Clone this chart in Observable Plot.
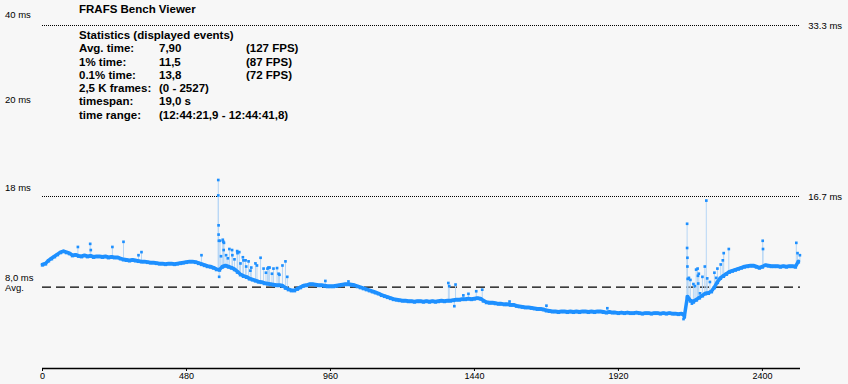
<!DOCTYPE html>
<html><head><meta charset="utf-8">
<script src="https://cdn.jsdelivr.net/npm/d3@7"></script>
<script src="https://cdn.jsdelivr.net/npm/@observablehq/plot@0.6"></script>
<style>
html,body{margin:0;padding:0;background:#f7f7f7;}
#wrap{position:relative;width:848px;height:384px;overflow:hidden;}
#title{position:absolute;left:79px;top:3px;font:bold 11.5px "Liberation Sans",sans-serif;color:#000;white-space:nowrap;}
#stats{position:absolute;left:79px;top:29px;font:bold 11.5px "Liberation Sans",sans-serif;color:#000;}
#stats .row{height:13.3px;line-height:13.3px;white-space:nowrap;}
#stats span{display:inline-block;}
#stats .c1{width:80px;}
#stats .c2{width:87px;}
</style></head><body>
<div id="wrap"><div id="chart"></div><div id="title"></div><div id="stats"></div></div>
<script>
// ---- data ----
const chartTitle = "FRAFS Bench Viewer";
const statsHeader = "Statistics (displayed events)";
const statNames = ["Avg. time:", "1% time:", "0.1% time:", "2,5 K frames:", "timespan:", "time range:"];
const statValues = ["7,90", "11,5", "13,8", "(0 - 2527)", "19,0 s", "(12:44:21,9 - 12:44:41,8)"];
const statFps = ["(127 FPS)", "(87 FPS)", "(72 FPS)", "", "", ""];

const totalFrames = 2527;
const frameStep = 10; // one sample every 10 frames
const bandMs = [
 10.1,10.2,10.5,10.7,10.9,11.1,11.3,11.4,11.3,11.2,
 11.0,11.05,10.95,10.9,11.0,10.9,10.95,10.85,10.9,10.9,
 10.85,10.9,10.8,10.85,10.8,10.8,10.7,10.6,10.55,10.5,
 10.55,10.5,10.45,10.4,10.4,10.35,10.3,10.3,10.25,10.2,
 10.2,10.15,10.2,10.2,10.15,10.2,10.25,10.3,10.35,10.4,
 10.4,10.35,10.25,10.15,10.05,9.95,9.9,9.8,9.65,9.6,
 9.9,10.0,9.9,9.8,9.65,9.4,9.15,9.0,8.9,8.75,
 8.65,8.55,8.45,8.4,8.3,8.25,8.2,8.15,8.1,8.1,
 8.05,7.85,7.7,7.6,7.6,7.75,7.9,8.05,8.1,8.2,
 8.2,8.15,8.1,8.1,8.05,8.0,8.0,8.0,8.05,8.1,
 8.15,8.2,8.2,8.15,8.1,8.0,7.9,7.8,7.7,7.6,
 7.5,7.4,7.3,7.15,7.05,6.95,6.85,6.75,6.7,6.65,
 6.6,6.6,6.55,6.55,6.5,6.55,6.55,6.5,6.55,6.5,
 6.55,6.5,6.55,6.6,6.55,6.6,6.6,6.65,6.7,6.7,
 6.75,6.75,6.8,6.75,6.8,6.85,6.8,6.6,6.45,6.4,
 6.4,6.35,6.3,6.3,6.25,6.25,6.2,6.2,6.1,6.05,
 6.0,5.95,5.95,5.9,5.85,5.8,5.8,5.75,5.65,5.6,
 5.55,5.55,5.5,5.55,5.55,5.5,5.55,5.5,5.55,5.5,
 5.55,5.55,5.5,5.55,5.5,5.55,5.55,5.5,5.45,5.5,
 5.45,5.45,5.4,5.45,5.4,5.45,5.4,5.4,5.45,5.4,
 5.35,5.4,5.4,5.35,5.4,5.4,5.35,5.4,5.35,5.4,
 5.35,5.35,5.3,5.35,5.1,7.0,6.6,6.5,6.7,6.9,
 7.1,7.3,7.35,7.5,7.9,8.4,8.8,9.0,9.2,9.4,
 9.5,9.6,9.7,9.8,9.9,9.95,10.0,10.0,9.9,9.8,
 9.9,10.05,10.0,9.95,9.95,9.95,9.9,9.95,9.9,9.95,
 9.95,9.9,10.4
];
// outlier frames: [frame, ms]
const spikes = [
 [118,11.8],[159,12.1],[161,11.5],[233,11.8],[270,12.3],[320,11.0],[330,11.3],[530,11.0],
 [586,18.3],[586,16.8],[587,13.9],[587,13.0],[588,12.4],[589,8.9],
 [592,12.4],[595,10.9],[601,12.5],[603,12.3],[605,12.2],[604,11.5],[612,11.0],[618,10.7],[623,11.6],
 [632,11.5],[633,11.0],[640,10.6],[649,11.4],[650,11.2],[656,11.3],[660,10.2],[668,10.8],[670,10.5],
 [677,10.5],[679,9.9],[687,10.4],[693,9.5],[696,9.8],[710,10.2],[715,10.0],[727,10.75],[737,9.7],
 [745,9.3],[750,9.7],[753,9.8],[757,9.8],[765,9.2],[770,9.7],[782,9.75],[787,9.2],[790,9.1],
 [800,10.0],[810,10.4],[816,8.9],
 [943,8.5],[1020,8.45],
 [1353,8.3],[1356,8.0],[1373,6.05],[1377,8.15],[1403,7.1],[1420,7.25],[1446,7.5],[1466,7.65],
 [1557,6.5],[1680,6.1],[1883,5.85],
 [2137,4.8],[2140,4.95],
 [2149,14.05],[2149,11.7],[2150,10.75],[2150,9.9],[2151,8.7],[2155,8.8],[2160,8.6],[2165,6.3],
 [2170,8.2],[2175,8.0],[2179,9.6],[2184,9.7],[2185,9.0],[2186,8.25],[2188,9.2],[2192,7.3],
 [2200,8.9],[2208,9.9],[2213,16.3],[2216,8.75],[2225,8.4],[2240,9.3],[2246,8.8],[2250,9.7],
 [2261,10.1],[2268,10.5],[2271,11.2],[2288,11.6],
 [2401,12.4],[2402,11.6],[2513,12.2],[2517,11.2],[2525,11.0]
];
const refLines = [33.3, 16.7];
const refLabels = ["33.3 ms", "16.7 ms"];
const avgMs = 7.90;
const xTicks = [0, 480, 960, 1440, 1920, 2400];
const yTickLabels = ["40 ms", "20 ms", "18 ms", "8,0 ms", "Avg."];
const yTickAt = [34.3, 26.1, 17.5, 8.75, 7.8];

// ---- tables for the library ----
const band = bandMs.map((ms, i) => ({frame: i * frameStep, ms}));
const spikeData = spikes.map(([frame, ms]) => ({
  frame, ms, base: bandMs[Math.min(bandMs.length - 1, Math.round(frame / frameStep))]
}));
const yLabelData = yTickLabels.map((label, i) => ({label, ms: yTickAt[i]}));
const refLabelData = refLabels.map((label, i) => ({label, ms: refLines[i]}));

const blue = "#1e90ff";
const chart = Plot.plot({
  width: 848, height: 384,
  marginLeft: 42, marginRight: 48, marginTop: 25, marginBottom: 16,
  x: {domain: [0, totalFrames]},
  y: {domain: [0, 33.3], axis: null},
  style: {background: "transparent", fontFamily: "Liberation Sans, sans-serif", fontSize: "9px", overflow: "visible", color: "#000"},
  marks: [
    Plot.ruleY(refLines, {stroke: "#000", strokeDasharray: "1,1", strokeWidth: 1}),
    Plot.ruleY([avgMs], {stroke: "#000", strokeDasharray: "9,5", strokeWidth: 1.3}),
    Plot.ruleX(spikeData, {x: "frame", y1: "base", y2: "ms", stroke: "#b7d6f5", strokeWidth: 1}),
    Plot.line(band, {x: "frame", y: "ms", stroke: blue, strokeWidth: 3.5, curve: "linear"}),
    Plot.dot(band, {x: "frame", y: "ms", symbol: "square", r: 1.9, fill: blue, dy: 0.5}),
    Plot.dot(spikeData, {x: "frame", y: "ms", symbol: "square", r: 1.5, fill: blue}),
    Plot.ruleY([0], {stroke: "#000", strokeWidth: 1.3}),
    Plot.axisX(xTicks, {tickSize: 3, tickPadding: 1, fontSize: 9, label: null, stroke: "#000", tickFormat: d => String(d)}),
    Plot.text(yLabelData, {x: () => -125, y: "ms", text: "label", textAnchor: "start", fontSize: 9.5, fill: "#000"}),
    Plot.text(refLabelData, {x: () => 2553, y: "ms", text: "label", textAnchor: "start", fontSize: 9.5, fill: "#000"})
  ]
});
document.getElementById("chart").append(chart);

document.getElementById("title").textContent = chartTitle;
const stats = document.getElementById("stats");
const hdr = document.createElement("div"); hdr.className = "row"; hdr.textContent = statsHeader; stats.append(hdr);
statNames.forEach((n, i) => {
  const r = document.createElement("div"); r.className = "row";
  [[n, "c1"], [statValues[i], "c2"], [statFps[i], "c3"]].forEach(([t, c]) => {
    const s = document.createElement("span"); s.className = c; s.textContent = t; r.append(s);
  });
  stats.append(r);
});
</script></body></html>
